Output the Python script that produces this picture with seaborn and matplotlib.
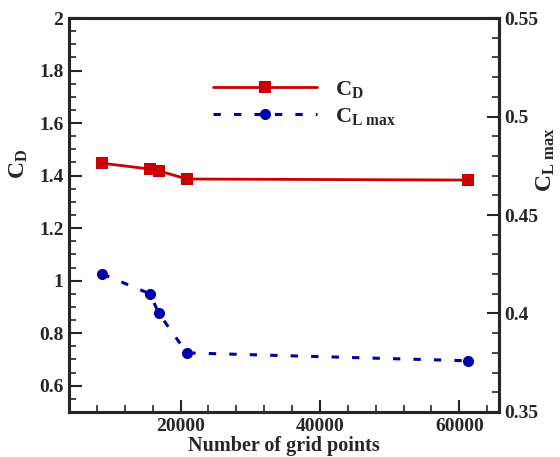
import matplotlib
matplotlib.use("Agg")
import matplotlib.pyplot as plt
from matplotlib.ticker import MultipleLocator
import seaborn as sns
import pandas as pd

grid_points = [8800, 15600, 16900, 20900, 61300]
cd_values = [1.447, 1.425, 1.418, 1.387, 1.383]
cl_max_values = [0.420, 0.410, 0.400, 0.380, 0.376]

sns.set_style("ticks")
plt.rcParams['font.family'] = ['Liberation Serif', 'DejaVu Serif']
plt.rcParams['font.weight'] = 'bold'
plt.rcParams['mathtext.fontset'] = 'custom'
plt.rcParams['mathtext.rm'] = 'Liberation Serif:bold'
plt.rcParams['mathtext.bf'] = 'Liberation Serif:bold'
plt.rcParams['mathtext.it'] = 'Liberation Serif:bold'

df = pd.DataFrame({"n": grid_points, "cd": cd_values, "cl": cl_max_values})

fig = plt.figure(figsize=(5.6, 4.57), dpi=100)
ax = fig.add_axes([69/560, 1-412/457, (499-69)/560, (412-18)/457])
ax2 = ax.twinx()

red = "#cc0000"
blue = "#0000aa"

sns.lineplot(data=df, x="n", y="cd", ax=ax, color=red, lw=2, marker="s",
             markersize=8, markeredgewidth=0, label="CD", legend=False)
sns.lineplot(data=df, x="n", y="cl", ax=ax2, color=blue, lw=2.2, marker="o",
             markersize=8, markeredgewidth=0, dashes=False, label="CL", legend=False)
ax2.lines[0].set_dashes((2.4, 4.3))

ax.set_xlim(4000, 65700)
ax.set_ylim(0.5, 2.0)
ax2.set_ylim(0.35, 0.55)

ax.xaxis.set_major_locator(MultipleLocator(20000))
ax.xaxis.set_minor_locator(MultipleLocator(4000))
ax.yaxis.set_major_locator(MultipleLocator(0.2))
ax.yaxis.set_minor_locator(MultipleLocator(0.05))
ax2.yaxis.set_major_locator(MultipleLocator(0.05))
ax2.yaxis.set_minor_locator(MultipleLocator(0.01))

ax.set_yticks([0.6, 0.8, 1.0, 1.2, 1.4, 1.6, 1.8, 2.0])
ax.set_yticklabels(["0.6", "0.8", "1", "1.2", "1.4", "1.6", "1.8", "2"])
ax2.set_yticks([0.35, 0.4, 0.45, 0.5, 0.55])
ax2.set_yticklabels(["0.35", "0.4", "0.45", "0.5", "0.55"])

for a in (ax, ax2):
    for s in a.spines.values():
        s.set_linewidth(2.2)
        s.set_visible(True)
    a.tick_params(which="major", direction="in", length=9, width=1.5, labelsize=14, pad=4)
    a.tick_params(which="minor", direction="in", length=5, width=1.2)
ax.tick_params(axis="y", which="both", right=False)
ax.tick_params(axis="x", which="both", top=False)
ax2.tick_params(axis="y", which="both", left=False)

for lab in ax.get_xticklabels() + ax.get_yticklabels() + ax2.get_yticklabels():
    lab.set_fontweight("bold")

ax.set_xlabel("Number of grid points", fontsize=14.5, fontweight="bold", labelpad=1)
ax.set_ylabel(r"$\mathbf{C_D}$", fontsize=17, va="center", ha="center")
ax.yaxis.set_label_coords((19-69)/430, (412-164)/394)
ax2.set_ylabel(r"$\mathbf{C_{L\ max}}$", fontsize=17, va="center", ha="center", rotation=90)
ax2.yaxis.set_label_coords((546-69)/430, (412-159)/394)

h1 = ax.lines[0]
h2 = ax2.lines[0]
leg = ax2.legend([h1, h2], [r"$\mathbf{C_D}$", r"$\mathbf{C_{L\ max}}$"],
                 loc="upper left", bbox_to_anchor=(213/560, 1-79/457),
                 bbox_transform=fig.transFigure, frameon=False, fontsize=16,
                 handlelength=4.7, handletextpad=0.8, borderpad=0, borderaxespad=0,
                 labelspacing=0.25)

fig.savefig("out.png", dpi=100)
